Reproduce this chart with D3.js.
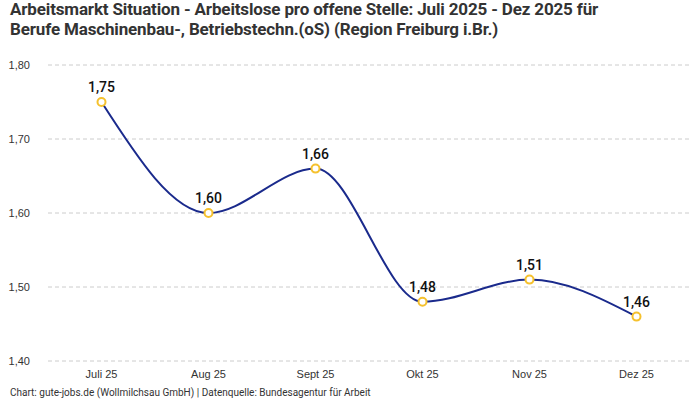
<!DOCTYPE html>
<html>
<head>
<meta charset="utf-8">
<script src="https://cdn.jsdelivr.net/npm/d3@7"></script>
<style>
body{margin:0;background:#fff;}
svg{display:block;font-family:"Roboto",sans-serif;}
</style>
</head>
<body>
<div id="chart"></div>
<script>
// data
var months = ["Juli 25","Aug 25","Sept 25","Okt 25","Nov 25","Dez 25"];
var values = [1.75,1.60,1.66,1.48,1.51,1.46];
var yTicks = [1.40,1.50,1.60,1.70,1.80];
var titleLines = ["Arbeitsmarkt Situation - Arbeitslose pro offene Stelle: Juli 2025 - Dez 2025 für",
	"Berufe Maschinenbau-, Betriebstechn.(oS) (Region Freiburg i.Br.)"];
var footer = "Chart: gute-jobs.de (Wollmilchsau GmbH) | Datenquelle: Bundesagentur für Arbeit";

var w = 700, h = 400;
var margin = {"top":65,"right":10,"bottom":39,"left":48};
var fmt = function(v){return d3.format(".2f")(v).replace(".",",");};

var svg = d3.select("#chart").append("svg")
	.attr("width", w)
	.attr("height", h);

var x = d3.scaleBand()
	.domain(months)
	.range([margin.left, w - margin.right]);
var y = d3.scaleLinear()
	.domain([1.40,1.80])
	.range([h - margin.bottom, margin.top]);

// title
svg.append("g").selectAll("text")
	.data(titleLines)
	.enter().append("text")
	.attr("x", 10)
	.attr("y", function(d,i){return 15 + i*20;})
	.attr("font-size", 17)
	.attr("font-weight", "bold")
	.attr("letter-spacing", -0.15)
	.attr("fill", "#333")
	.text(function(d){return d;});

// grid
svg.append("g").selectAll("line")
	.data(yTicks)
	.enter().append("line")
	.attr("x1", margin.left)
	.attr("x2", w - margin.right)
	.attr("y1", function(d){return y(d);})
	.attr("y2", function(d){return y(d);})
	.attr("stroke", "#ccc")
	.attr("stroke-dasharray", "4,3");

// y axis
var yAxis = svg.append("g")
	.attr("transform", "translate(" + (margin.left - 15) + ",0)")
	.call(d3.axisLeft(y).tickValues(yTicks).tickFormat(fmt).tickSize(0));
yAxis.select(".domain").remove();
yAxis.selectAll("text").attr("font-size", 11).attr("fill", "#333").attr("font-family", "inherit");

// x axis
var xAxis = svg.append("g")
	.attr("transform", "translate(0," + (h - margin.bottom) + ")")
	.call(d3.axisBottom(x).tickSize(0).tickPadding(9));
xAxis.select(".domain").remove();
xAxis.selectAll("text").attr("font-size", 11).attr("fill", "#333").attr("font-family", "inherit");

// line
var cx = function(d,i){return x(months[i]) + x.bandwidth()/2;};
var line = d3.line()
	.x(cx)
	.y(function(d){return y(d);})
	.curve(d3.curveMonotoneX);
svg.append("path")
	.datum(values)
	.attr("d", line)
	.attr("fill", "none")
	.attr("stroke", "#1a2a8c")
	.attr("stroke-width", 2);

// points
svg.append("g").selectAll("circle")
	.data(values)
	.enter().append("circle")
	.attr("cx", cx)
	.attr("cy", function(d){return y(d);})
	.attr("r", 4)
	.attr("fill", "#fff")
	.attr("stroke", "#f5c12e")
	.attr("stroke-width", 2);

// labels
svg.append("g").selectAll("text")
	.data(values)
	.enter().append("text")
	.attr("x", cx)
	.attr("y", function(d){return y(d) - 10;})
	.attr("text-anchor", "middle")
	.attr("font-size", 14)
	.attr("font-weight", 500)
	.attr("fill", "#111")
	.text(fmt);

// footer
svg.append("text")
	.attr("x", 10)
	.attr("y", 396)
	.attr("font-size", 10)
	.attr("fill", "#333")
	.text(footer);
</script>
</body>
</html>
